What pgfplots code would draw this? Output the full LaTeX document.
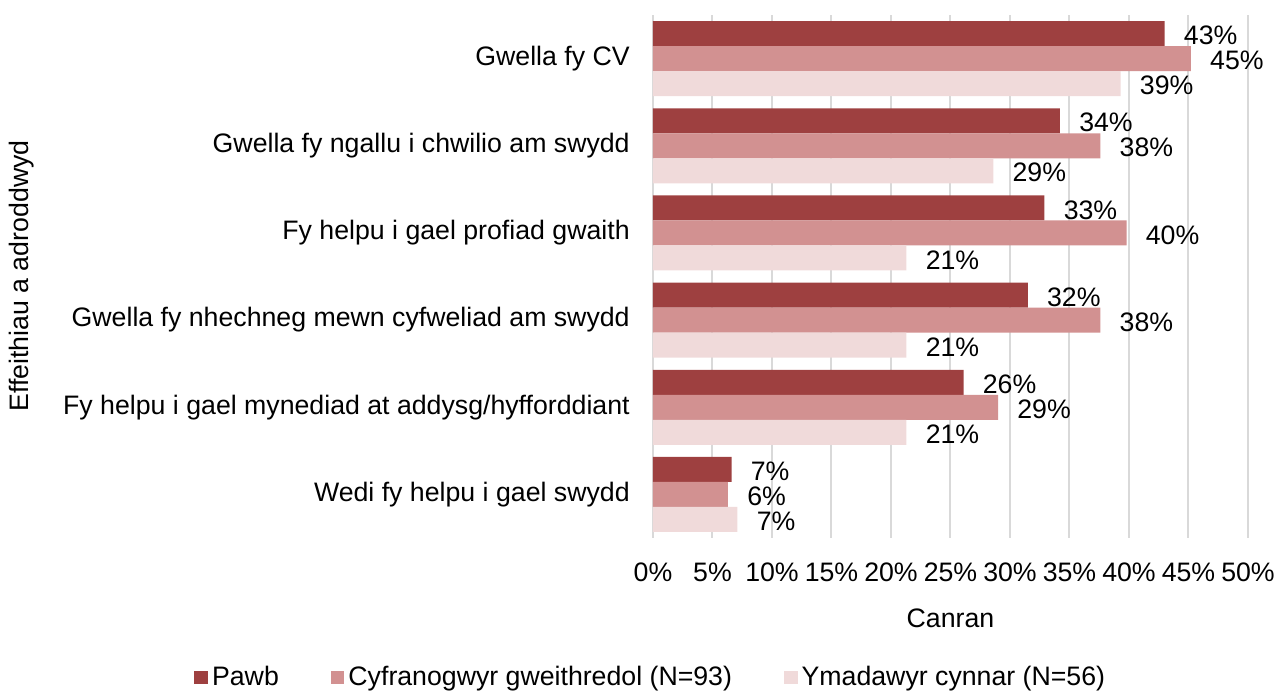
\documentclass[border=0pt]{standalone}
\usepackage{pgfplots}
\pgfplotsset{compat=1.18}
\usepackage{fontspec}
\setmainfont{Liberation Sans}
\definecolor{cA}{HTML}{9E4040}
\definecolor{cB}{HTML}{D29191}
\definecolor{cC}{HTML}{F0DADA}
\definecolor{gridc}{HTML}{D9D9D9}
\begin{document}
\fontsize{13.35pt}{16pt}\selectfont
\begin{tikzpicture}
\useasboundingbox (-326.5pt,-76.5pt) rectangle (311.5pt,269pt);
\begin{axis}[
  at={(0,0)}, anchor=south west,
  scale only axis, width=297.5pt, height=261.5pt,
  xbar, bar width=12.5pt,
  xmin=0, xmax=50, ymin=-0.5, ymax=5.5,
  y dir=reverse,
  xtick={0,5,...,50},
  xticklabel={\pgfmathprintnumber{\tick}\%},
  /pgf/number format/assume math mode=true,
  ytick={0,1,2,3,4,5},
  yticklabels={Gwella fy CV,Gwella fy ngallu i chwilio am swydd,Fy helpu i gael profiad gwaith,Gwella fy nhechneg mewn cyfweliad am swydd,Fy helpu i gael mynediad at addysg/hyfforddiant,Wedi fy helpu i gael swydd},
  major tick length=0pt,
  axis line style={draw=none},
  xmajorgrids, grid style={gridc, line width=1pt},
  tick label style={font=\fontsize{13.35pt}{16pt}\selectfont},
  yticklabel style={xshift=-7pt},
  xticklabel style={yshift=-8pt},
  xlabel={Canran},
  xlabel style={font=\fontsize{13.35pt}{16pt}\selectfont, yshift=-4pt},
  point meta=explicit symbolic,
  nodes near coords,
  nodes near coords style={anchor=west, xshift=5pt, yshift=-1pt, font=\fontsize{13.35pt}{16pt}\selectfont, black},
  legend columns=3,
  legend style={at={(-0.002,-0.2665)}, anchor=center, draw=none, fill=none,
    font=\fontsize{13.35pt}{16pt}\selectfont,
    /tikz/every even column/.append style={column sep=24pt}},
  legend image code/.code={\fill[#1] (0pt,-3.4pt) rectangle (6.8pt,3.4pt);},
]
\addplot[fill=cA, draw=none, bar shift=12.5pt] coordinates {
 (43.0,0) [43\%] (34.2,1) [34\%] (32.9,2) [33\%] (31.5,3) [32\%] (26.1,4) [26\%] (6.6,5) [7\%]};
\addlegendentry{Pawb}
\addplot[fill=cB, draw=none, bar shift=0pt] coordinates {
 (45.2,0) [45\%] (37.6,1) [38\%] (39.8,2) [40\%] (37.6,3) [38\%] (29.0,4) [29\%] (6.3,5) [6\%]};
\addlegendentry{Cyfranogwyr gweithredol (N=93)}
\addplot[fill=cC, draw=none, bar shift=-12.5pt] coordinates {
 (39.3,0) [39\%] (28.6,1) [29\%] (21.3,2) [21\%] (21.3,3) [21\%] (21.3,4) [21\%] (7.1,5) [7\%]};
\addlegendentry{Ymadawyr cynnar (N=56)}
\end{axis}
\node[rotate=90] at (-315.5pt,131pt) {Effeithiau a adroddwyd};
\end{tikzpicture}
\end{document}
